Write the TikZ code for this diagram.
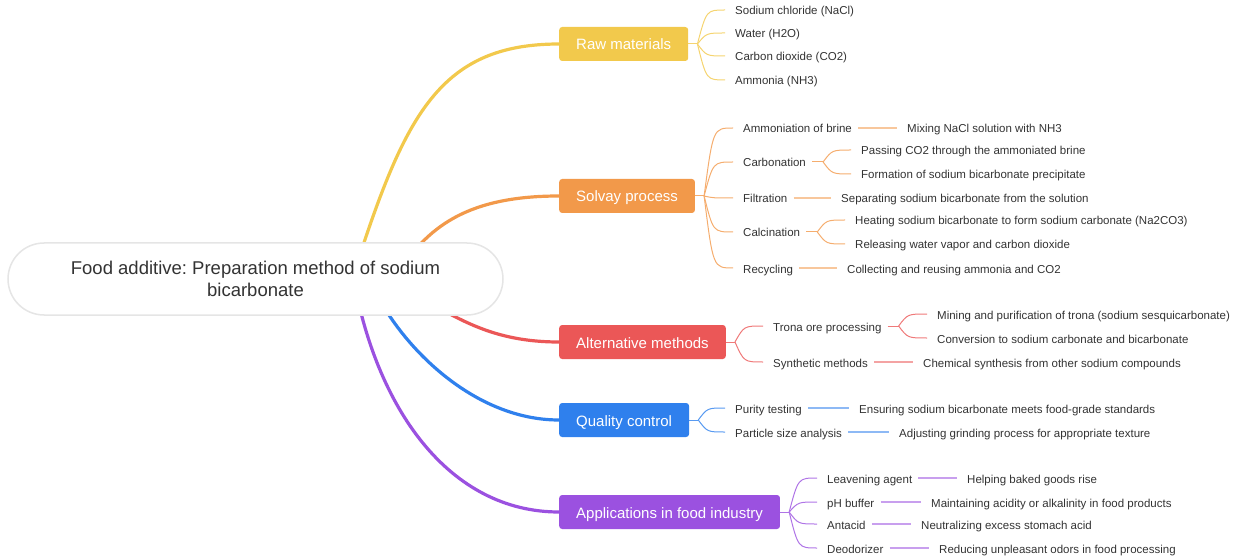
\documentclass[tikz,border=0pt]{standalone}
\usepackage{fontspec}
\setmainfont{Liberation Sans}
\usepackage{xcolor}
\usepackage{tikz}
\usetikzlibrary{calc,backgrounds}
\frenchspacing

\definecolor{cyellow}{HTML}{F2C94C}
\definecolor{corange}{HTML}{F2994A}
\definecolor{cred}{HTML}{EB5757}
\definecolor{cblue}{HTML}{2F80ED}
\definecolor{cpurple}{HTML}{9B51E0}
\definecolor{ctext}{HTML}{333333}

\tikzset{
  rootbox/.style={draw=black!10, line width=1.5pt, fill=white, rounded corners=36pt,
    minimum width=495pt, minimum height=72pt, align=center, text=ctext,
    font=\fontsize{18.5}{22}\selectfont},
  branchbox/.style={anchor=west, rounded corners=3pt, inner xsep=17pt, inner ysep=0pt,
    minimum height=34pt, text height=12pt, text depth=0pt, text=white,
    font=\fontsize{15}{18}\selectfont},
  leaf/.style={anchor=west, inner sep=0pt, text height=10.5pt, text depth=0.5pt,
    text=ctext, font=\fontsize{11.5}{14}\selectfont},
  trunk/.style={line width=3.2pt, line cap=round},
  twig/.style={line width=1pt},
  stub/.style={line width=1.8pt},
}

\begin{document}
\begin{tikzpicture}[x=1pt,y=-1pt]
	\newcommand\Fan[3]{\draw[twig,#1] (#2) .. controls ($(#2 |- #3.west)+(9,0)$) .. ($(#3.west)+(-10,0)$);}
	\newcommand\Stub[3]{\draw[stub,#1] ($(#2.east)+(6,0)$) -- ($(#3.west)+(-10,0)$);}

	\useasboundingbox (0,0) rectangle (1240,556);

	% centre
	\node[rootbox] (root) at (255.5,279) {Food additive: Preparation method of sodium\\bicarbonate};

	% main branches
	\node[branchbox, fill=cyellow] (raw) at (559,44) {Raw materials};
	\node[branchbox, fill=corange] (solvay) at (559,196) {Solvay process};
	\node[branchbox, fill=cred] (alt) at (559,342) {Alternative methods};
	\node[branchbox, fill=cblue] (qc) at (559,420) {Quality control};
	\node[branchbox, fill=cpurple] (app) at (559,512) {Applications in food industry};

	% raw materials
	\node[leaf] (nacl) at (735,10) {Sodium chloride (NaCl)};
	\node[leaf] (water) at (735,33) {Water (H2O)};
	\node[leaf] (co2) at (735,56) {Carbon dioxide (CO2)};
	\node[leaf] (nh3) at (735,80) {Ammonia (NH3)};

	% solvay process
	\node[leaf] (ammon) at (743,128) {Ammoniation of brine};
	\node[leaf] (carb) at (743,162) {Carbonation};
	\node[leaf] (filt) at (743,198) {Filtration};
	\node[leaf] (calc) at (743,232) {Calcination};
	\node[leaf] (recyc) at (743,268) {Recycling};
	\node[leaf] (mixing) at (907,128) {Mixing NaCl solution with NH3};
	\node[leaf] (passing) at (861,150) {Passing CO2 through the ammoniated brine};
	\node[leaf] (formation) at (861,174) {Formation of sodium bicarbonate precipitate};
	\node[leaf] (separating) at (841,198) {Separating sodium bicarbonate from the solution};
	\node[leaf] (heating) at (855,220) {Heating sodium bicarbonate to form sodium carbonate (Na2CO3)};
	\node[leaf] (releasing) at (855,244) {Releasing water vapor and carbon dioxide};
	\node[leaf] (collecting) at (847,268) {Collecting and reusing ammonia and CO2};

	% alternative methods
	\node[leaf] (trona) at (773,326) {Trona ore processing};
	\node[leaf] (synth) at (773,362) {Synthetic methods};
	\node[leaf] (mining) at (937,314) {Mining and purification of trona (sodium sesquicarbonate)};
	\node[leaf] (conversion) at (937,338) {Conversion to sodium carbonate and bicarbonate};
	\node[leaf] (chemical) at (923,362) {Chemical synthesis from other sodium compounds};

	% quality control
	\node[leaf] (purity) at (735,408) {Purity testing};
	\node[leaf] (particle) at (735,432) {Particle size analysis};
	\node[leaf] (ensuring) at (859,408) {Ensuring sodium bicarbonate meets food-grade standards};
	\node[leaf] (adjusting) at (899,432) {Adjusting grinding process for appropriate texture};

	% applications
	\node[leaf] (leaven) at (827,478) {Leavening agent};
	\node[leaf] (buffer) at (827,502) {pH buffer};
	\node[leaf] (antacid) at (827,524) {Antacid};
	\node[leaf] (deodor) at (827,548) {Deodorizer};
	\node[leaf] (helping) at (967,478) {Helping baked goods rise};
	\node[leaf] (maintaining) at (931,502) {Maintaining acidity or alkalinity in food products};
	\node[leaf] (neutralizing) at (921,524) {Neutralizing excess stomach acid};
	\node[leaf] (reducing) at (939,548) {Reducing unpleasant odors in food processing};

	\begin{scope}[on background layer]
		% trunks from the centre
		\coordinate (sraw) at (355,270);
		\coordinate (ssolvay) at (400,270);
		\coordinate (salt) at (380,280);
		\coordinate (sqc) at (370,280);
		\coordinate (sapp) at (352,270);
		\draw[trunk, cyellow] (sraw) .. controls (405,115) and (440,44) .. (raw.west);
		\draw[trunk, corange] (ssolvay) .. controls (430,225) and (470,196) .. (solvay.west);
		\draw[trunk, cred] (salt) .. controls (440,300) and (470,342) .. (alt.west);
		\draw[trunk, cblue] (sqc) .. controls (395,340) and (470,420) .. (qc.west);
		\draw[trunk, cpurple] (sapp) .. controls (375,410) and (450,512) .. (app.west);

		% raw materials
		\coordinate (rawfan) at ($(raw.east)+(9,0)$);
		\draw[twig, cyellow!80] (raw.east) -- (rawfan);
		\Fan{cyellow!80}{rawfan}{nacl}
		\Fan{cyellow!80}{rawfan}{water}
		\Fan{cyellow!80}{rawfan}{co2}
		\Fan{cyellow!80}{rawfan}{nh3}

		% solvay process
		\coordinate (solvayfan) at ($(solvay.east)+(9,0)$);
		\draw[twig, corange!80] (solvay.east) -- (solvayfan);
		\Fan{corange!80}{solvayfan}{ammon}
		\Fan{corange!80}{solvayfan}{carb}
		\Fan{corange!80}{solvayfan}{filt}
		\Fan{corange!80}{solvayfan}{calc}
		\Fan{corange!80}{solvayfan}{recyc}
		\Stub{corange!55}{ammon}{mixing}
		\coordinate (carbfan) at ($(carb.east)+(17,0)$);
		\draw[twig, corange!80] ($(carb.east)+(6,0)$) -- (carbfan);
		\Fan{corange!80}{carbfan}{passing}
		\Fan{corange!80}{carbfan}{formation}
		\Stub{corange!55}{filt}{separating}
		\coordinate (calcfan) at ($(calc.east)+(17,0)$);
		\draw[twig, corange!80] ($(calc.east)+(6,0)$) -- (calcfan);
		\Fan{corange!80}{calcfan}{heating}
		\Fan{corange!80}{calcfan}{releasing}
		\Stub{corange!55}{recyc}{collecting}

		% alternative methods
		\coordinate (altfan) at ($(alt.east)+(9,0)$);
		\draw[twig, cred!80] (alt.east) -- (altfan);
		\Fan{cred!80}{altfan}{trona}
		\Fan{cred!80}{altfan}{synth}
		\coordinate (tronafan) at ($(trona.east)+(17,0)$);
		\draw[twig, cred!80] ($(trona.east)+(6,0)$) -- (tronafan);
		\Fan{cred!80}{tronafan}{mining}
		\Fan{cred!80}{tronafan}{conversion}
		\Stub{cred!55}{synth}{chemical}

		% quality control
		\coordinate (qcfan) at ($(qc.east)+(9,0)$);
		\draw[twig, cblue!80] (qc.east) -- (qcfan);
		\Fan{cblue!80}{qcfan}{purity}
		\Fan{cblue!80}{qcfan}{particle}
		\Stub{cblue!55}{purity}{ensuring}
		\Stub{cblue!55}{particle}{adjusting}

		% applications
		\coordinate (appfan) at ($(app.east)+(9,0)$);
		\draw[twig, cpurple!80] (app.east) -- (appfan);
		\Fan{cpurple!80}{appfan}{leaven}
		\Fan{cpurple!80}{appfan}{buffer}
		\Fan{cpurple!80}{appfan}{antacid}
		\Fan{cpurple!80}{appfan}{deodor}
		\Stub{cpurple!55}{leaven}{helping}
		\Stub{cpurple!55}{buffer}{maintaining}
		\Stub{cpurple!55}{antacid}{neutralizing}
		\Stub{cpurple!55}{deodor}{reducing}
	\end{scope}
\end{tikzpicture}
\end{document}
